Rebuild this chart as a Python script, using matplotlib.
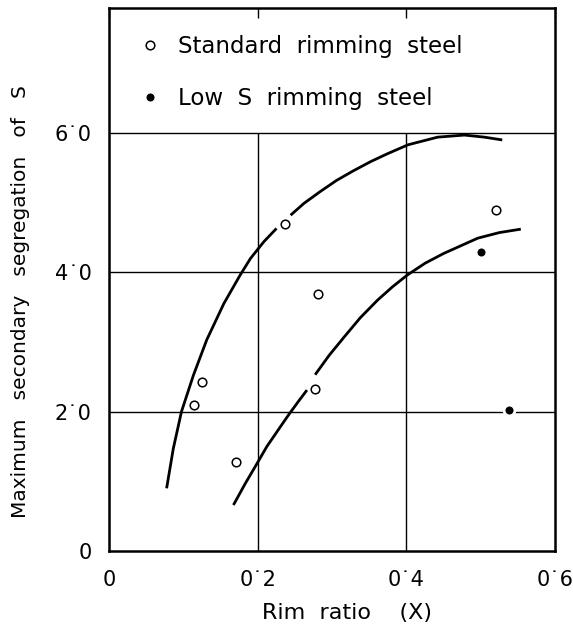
import matplotlib.pyplot as plt

# open circles: standard rimming steel
std_x = [0.114, 0.124, 0.170, 0.236, 0.277, 0.281, 0.520]
std_y = [2.09, 2.43, 1.28, 4.69, 2.32, 3.69, 4.90]

# filled circles: low S rimming steel
low_x = [0.501, 0.538]
low_y = [4.29, 2.03]

# hand drawn curves, split where they pass behind a point
c1a_x = [0.077, 0.086, 0.097, 0.113, 0.131, 0.154, 0.176, 0.190, 0.208, 0.225]
c1a_y = [0.90, 1.47, 2.00, 2.52, 3.03, 3.55, 3.96, 4.20, 4.44, 4.63]
c1b_x = [0.244, 0.262, 0.284, 0.306, 0.329, 0.352, 0.374, 0.402, 0.442, 0.478, 0.505, 0.529]
c1b_y = [4.82, 4.99, 5.16, 5.32, 5.46, 5.59, 5.70, 5.83, 5.94, 5.97, 5.94, 5.90]

c2a_x = [0.167, 0.183, 0.199, 0.212, 0.230, 0.241, 0.254, 0.266]
c2a_y = [0.66, 0.97, 1.26, 1.50, 1.78, 1.95, 2.14, 2.31]
c2b_x = [0.277, 0.296, 0.316, 0.338, 0.361, 0.381, 0.401, 0.425, 0.450, 0.496, 0.525, 0.554]
c2b_y = [2.53, 2.81, 3.07, 3.35, 3.60, 3.79, 3.96, 4.13, 4.27, 4.49, 4.57, 4.62]

xticks = [0, 0.2, 0.4, 0.6]
xlabels = ['0', '0\u02d92', '0\u02d94', '0\u02d96']
yticks = [0, 2, 4, 6]
ylabels = ['0', '2\u02d90', '4\u02d90', '6\u02d90']

fig = plt.figure(figsize=(5.73, 6.26), dpi=100)
ax = fig.add_axes([0.191, 0.1198, 0.7775, 0.867])

ax.set_xlim(0, 0.6)
ax.set_ylim(0, 7.79)

# grid
ax.vlines([0.2, 0.4], 0, 6, color='black', lw=1.0, zorder=1)
for y in [2, 4, 6]:
    ax.axhline(y, color='black', lw=1.0, zorder=1)

for xs, ys in [(c1a_x, c1a_y), (c1b_x, c1b_y), (c2a_x, c2a_y), (c2b_x, c2b_y)]:
    ax.plot(xs, ys, color='black', lw=2.0, solid_capstyle='butt',
            solid_joinstyle='round', zorder=2)

ax.plot(std_x, std_y, 'o', ms=6.2, mfc='white', mec='black', mew=1.1,
        ls='none', zorder=3, label='Standard  rimming  steel')
ax.plot(low_x, low_y, 'o', ms=7.8, mfc='black', mec='white', mew=2.0,
        ls='none', zorder=3, label='Low  S  rimming  steel')

leg = ax.legend(loc='upper left', bbox_to_anchor=(0.066, 0.95), frameon=False,
                fontsize=16.5, handletextpad=0.7, labelspacing=1.25,
                handlelength=1.0, numpoints=1, borderpad=0, borderaxespad=0)

ax.set_xticks(xticks)
ax.set_xticklabels(xlabels, fontsize=15)
ax.set_yticks(yticks)
ax.set_yticklabels(ylabels, fontsize=15)
ax.tick_params(axis='x', top=True, bottom=False, direction='in', length=7,
               width=1.0, pad=13.5)
ax.tick_params(axis='y', left=False, pad=9.4)

for s in ax.spines.values():
    s.set_linewidth(1.8)

ax.set_xlabel('Rim  ratio    (X)', fontsize=16)
ax.set_ylabel('Maximum   secondary   segregation   of   S', fontsize=14.5)
ax.xaxis.set_label_coords(0.533, -0.096)
ax.yaxis.set_label_coords(-0.178, 0.46)

fig.savefig('out.png', dpi=100)
